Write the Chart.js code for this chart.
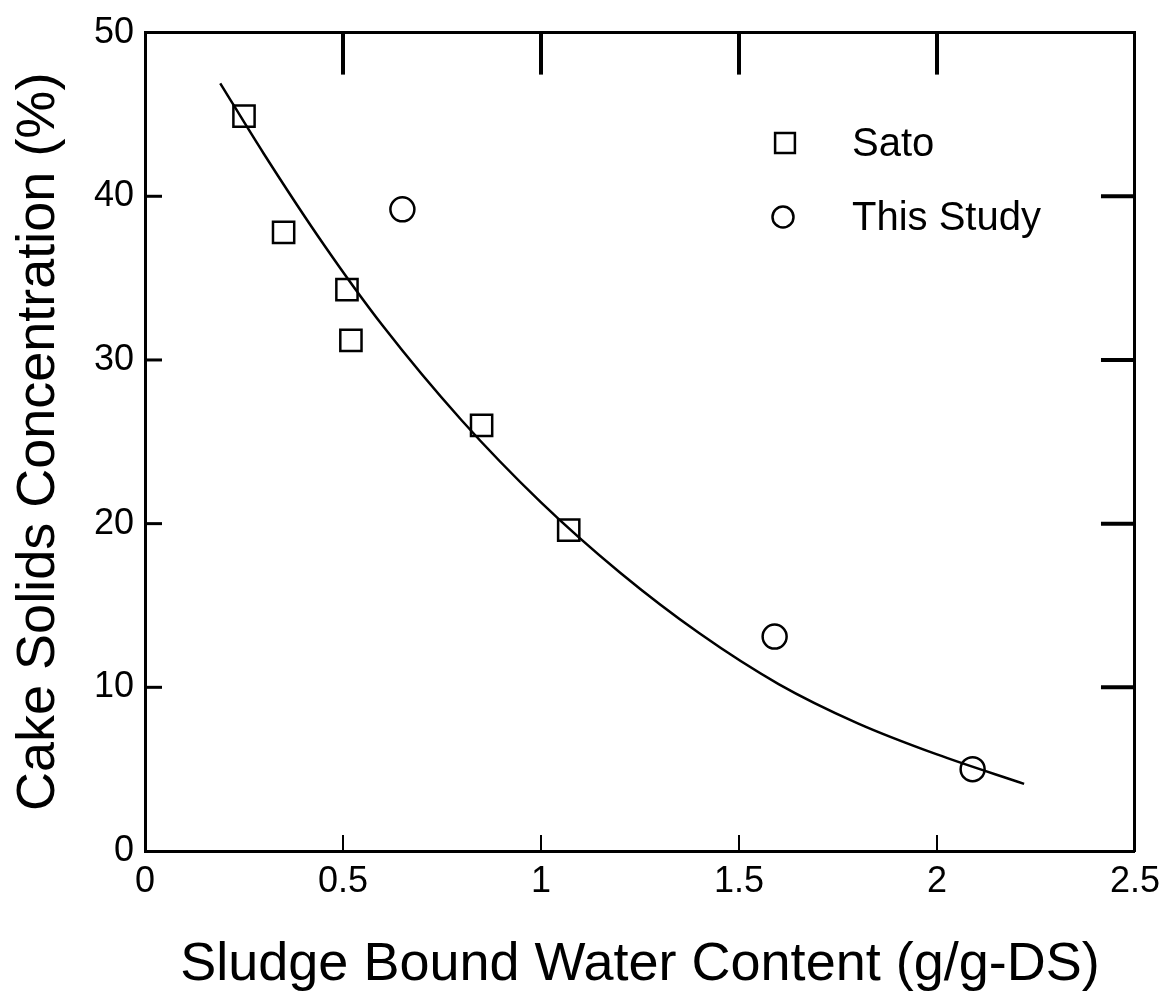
<!DOCTYPE html>
<html>
<head>
<meta charset="utf-8">
<script src="https://cdn.jsdelivr.net/npm/chart.js@4.4.1/dist/chart.umd.min.js"></script>
<style>
  html, body { margin: 0; padding: 0; background: #fff; }
  #chart { display: block; }
</style>
</head>
<body>
<canvas id="chart" width="1169" height="1004"></canvas>
<script>
const X_TICKS = [0.5, 1, 1.5, 2];
const Y_TICKS = [10, 20, 30, 40];

// Sato (squares)
const satoX = [0.25, 0.35, 0.51, 0.52, 0.85, 1.07];
const satoY = [44.9, 37.8, 34.3, 31.2, 26.0, 19.6];

// This Study (circles)
const studyX = [0.65, 1.59, 2.09];
const studyY = [39.2, 13.1, 5.0];

// fitted curve
const fitX = [0.19, 0.30, 0.45, 0.60, 0.80, 1.00, 1.20, 1.40, 1.60, 1.80, 2.00, 2.22];
const fitY = [46.9, 42.6, 37.1, 32.1, 26.3, 21.3, 17.0, 13.3, 10.2, 7.8, 5.9, 4.1];

const FONT = "'Liberation Sans', Arial, sans-serif";
const INK = "#000";

const toPts = (xs, ys) => xs.map((x, i) => ({ x, y: ys[i] }));

/* ── inside tick marks ───────────────────────────── */
const insideTicks = {
  id: "insideTicks",
  afterDraw(chart) {
    const { ctx, chartArea: a, scales } = chart;
    ctx.save();
    ctx.strokeStyle = INK;
    ctx.lineCap = "butt";

    // bottom & left: short thin ticks
    ctx.lineWidth = 2;
    X_TICKS.forEach(v => {
      const px = scales.x.getPixelForValue(v);
      ctx.beginPath(); ctx.moveTo(px, a.bottom); ctx.lineTo(px, a.bottom - 16); ctx.stroke();
    });
    ctx.lineWidth = 3;
    Y_TICKS.forEach(v => {
      const py = scales.y.getPixelForValue(v);
      ctx.beginPath(); ctx.moveTo(a.left, py); ctx.lineTo(a.left + 17, py); ctx.stroke();
    });

    // top & right: long heavy ticks
    ctx.lineWidth = 4;
    X_TICKS.forEach(v => {
      const px = scales.x.getPixelForValue(v);
      ctx.beginPath(); ctx.moveTo(px, a.top); ctx.lineTo(px, a.top + 42); ctx.stroke();
    });
    Y_TICKS.forEach(v => {
      const py = scales.y.getPixelForValue(v);
      ctx.beginPath(); ctx.moveTo(a.right, py); ctx.lineTo(a.right - 34, py); ctx.stroke();
    });
    ctx.restore();
  }
};

/* ── legend inside plot ──────────────────────────── */
const insideLegend = {
  id: "insideLegend",
  afterDraw(chart) {
    const { ctx } = chart;
    const items = [
      { ds: chart.data.datasets[0], x: 785, y: 143, r: 14 },
      { ds: chart.data.datasets[1], x: 783, y: 217, r: 10.5 }
    ];
    ctx.save();
    items.forEach(it => {
      ctx.fillStyle = "#fff";
      ctx.strokeStyle = INK;
      ctx.lineWidth = 2.5;
      Chart.helpers.drawPoint(ctx, { pointStyle: it.ds.pointStyle, radius: it.r, borderWidth: 2.5 }, it.x, it.y);
      ctx.fillStyle = INK;
      ctx.font = `40px ${FONT}`;
      ctx.textAlign = "left";
      ctx.textBaseline = "middle";
      ctx.fillText(it.ds.label, 852, it.y + 2);
    });
    ctx.restore();
  }
};

const borderCfg = { display: true, color: INK, width: 3 };
const plainNum = v => String(Math.round(v * 10) / 10);

new Chart(document.getElementById("chart"), {
  type: "scatter",
  data: {
    datasets: [
      {
        label: "Sato",
        data: toPts(satoX, satoY),
        pointStyle: "rect",
        pointRadius: 15,
        pointBorderWidth: 2.5,
        pointBorderColor: INK,
        pointBackgroundColor: "rgba(255,255,255,0)",
        order: 1
      },
      {
        label: "This Study",
        data: toPts(studyX, studyY),
        pointStyle: "circle",
        pointRadius: 12,
        pointBorderWidth: 2.5,
        pointBorderColor: INK,
        pointBackgroundColor: "rgba(255,255,255,0)",
        order: 1
      },
      {
        label: "fit",
        data: toPts(fitX, fitY),
        showLine: true,
        borderColor: INK,
        borderWidth: 2.5,
        pointRadius: 0,
        cubicInterpolationMode: "monotone",
        order: 2
      }
    ]
  },
  options: {
    responsive: false,
    animation: false,
    devicePixelRatio: 1,
    layout: { padding: 0 },
    plugins: {
      legend: { display: false },
      tooltip: { enabled: false }
    },
    scales: {
      x: {
        type: "linear",
        position: "bottom",
        min: 0,
        max: 2.5,
        afterFit: s => { s.height = 153; },
        grid: { display: false, drawTicks: false },
        border: borderCfg,
        ticks: {
          stepSize: 0.5,
          padding: 9,
          color: INK,
          font: { family: FONT, size: 36 },
          callback: plainNum
        },
        title: {
          display: true,
          text: "Sludge Bound Water Content (g/g-DS)",
          color: INK,
          font: { family: FONT, size: 54 },
          padding: { top: 0, bottom: 6 }
        }
      },
      x2: {
        type: "linear",
        axis: "x",
        position: "top",
        min: 0,
        max: 2.5,
        afterFit: s => { s.height = 29; },
        grid: { display: false, drawTicks: false },
        border: borderCfg,
        ticks: { display: false }
      },
      y: {
        type: "linear",
        position: "left",
        min: 0,
        max: 50,
        afterFit: s => { s.width = 145; },
        grid: { display: false, drawTicks: false },
        border: borderCfg,
        ticks: {
          stepSize: 10,
          padding: 11,
          color: INK,
          font: { family: FONT, size: 36 },
          callback: plainNum
        },
        title: {
          display: true,
          text: "Cake Solids Concentration (%)",
          color: INK,
          font: { family: FONT, size: 54 },
          padding: { top: 7, bottom: 0 }
        }
      },
      y2: {
        type: "linear",
        axis: "y",
        position: "right",
        min: 0,
        max: 50,
        afterFit: s => { s.width = 31; },
        grid: { display: false, drawTicks: false },
        border: borderCfg,
        ticks: { display: false }
      }
    }
  },
  plugins: [insideTicks, insideLegend]
});
</script>
</body>
</html>
